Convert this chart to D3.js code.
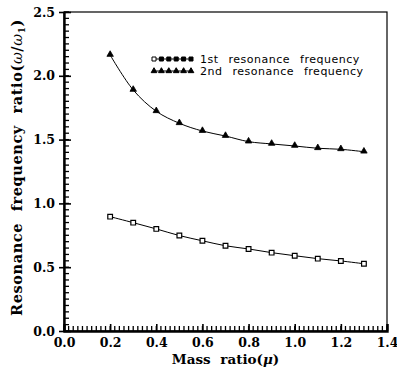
<!DOCTYPE html>
<html>
<head>
<meta charset="utf-8">
<script src="https://cdn.jsdelivr.net/npm/d3@7"></script>
<style>
  body { margin: 0; background: #fff; }
  .tick text { font-family: "DejaVu Serif", serif; font-weight: bold; }
</style>
</head>
<body>
<div id="chart"></div>
<script>
// mass ratio values
let massRatio = [0.2, 0.3, 0.4, 0.5, 0.6, 0.7, 0.8, 0.9, 1.0, 1.1, 1.2, 1.3];
let firstFreq = [0.896, 0.849, 0.80, 0.748, 0.707, 0.668, 0.643, 0.614, 0.59, 0.567, 0.549, 0.527];
let secondFreq = [2.163, 1.889, 1.722, 1.628, 1.567, 1.528, 1.484, 1.466, 1.45, 1.432, 1.424, 1.405];
let seriesNames = ["1st resonance frequency", "2nd resonance frequency"];
let xTicks = [0.0, 0.2, 0.4, 0.6, 0.8, 1.0, 1.2, 1.4];
let yTicks = [0.0, 0.5, 1.0, 1.5, 2.0, 2.5];

let width = 397;
let height = 370;
let margin = {left: 64, right: 10, top: 12, bottom: 39};

let svg = d3.select("#chart").append("svg")
  .attr("width", width)
  .attr("height", height);

let x = d3.scaleLinear().domain([0, 1.4]).range([margin.left, width - margin.right]);
let y = d3.scaleLinear().domain([0, 2.5]).range([height - margin.bottom, margin.top]);

// frame
svg.append("rect")
  .attr("x", x(0)).attr("y", y(2.5))
  .attr("width", x(1.4) - x(0)).attr("height", y(0) - y(2.5))
  .style("fill", "none").style("stroke", "#000").style("stroke-width", 1.2);

// minor ticks
let xMinor = d3.range(0, 141, 2).map(d => d / 100);
let yMinor = d3.range(0, 51, 1).map(d => d / 20);

svg.append("g").selectAll("line").data(xMinor).join("line")
  .attr("x1", d => x(d)).attr("x2", d => x(d))
  .attr("y1", y(0)).attr("y2", y(0) - 5)
  .attr("stroke", "#000").attr("stroke-width", 1.3);

svg.append("g").selectAll("line").data(yMinor).join("line")
  .attr("x1", x(0)).attr("x2", x(0) + 5)
  .attr("y1", d => y(d)).attr("y2", d => y(d))
  .attr("stroke", "#000").attr("stroke-width", 1.3);

// axes with major ticks
let xAxis = svg.append("g")
  .attr("transform", "translate(0," + y(0) + ")")
  .call(d3.axisBottom(x).tickValues(xTicks).tickFormat(d3.format(".1f")).tickSize(-7).tickPadding(7));
let yAxis = svg.append("g")
  .attr("transform", "translate(" + x(0) + ",0)")
  .call(d3.axisLeft(y).tickValues(yTicks).tickFormat(d3.format(".1f")).tickSizeInner(5).tickSizeOuter(0).tickPadding(4));

yAxis.selectAll(".tick line").attr("x2", -5).attr("x1", 7).style("stroke-width", 1.6);
xAxis.selectAll(".tick line").style("stroke-width", 1.6);
[xAxis, yAxis].forEach(a => {
  a.select(".domain").style("stroke-width", 2.4);
  a.selectAll(".tick text").style("font-size", "12.5px").style("fill", "#000");
});

// curves
let line = d3.line()
  .x(d => x(d[0]))
  .y(d => y(d[1]))
  .curve(d3.curveCatmullRom);

let s1 = massRatio.map((m, i) => [m, firstFreq[i]]);
let s2 = massRatio.map((m, i) => [m, secondFreq[i]]);

[s1, s2].forEach(s => {
  svg.append("path")
    .datum(s)
    .attr("d", line)
    .style("fill", "none")
    .style("stroke", "#000")
    .style("stroke-width", 1);
});

let square = d3.symbol().type(d3.symbolSquare).size(22);
let triangle = d3.symbol().type(d3.symbolTriangle).size(18);

svg.append("g").selectAll("path").data(s1).join("path")
  .attr("d", square)
  .attr("transform", d => "translate(" + x(d[0]) + "," + y(d[1]) + ")")
  .style("fill", "#fff").style("stroke", "#000").style("stroke-width", 1.2);

svg.append("g").selectAll("path").data(s2).join("path")
  .attr("d", triangle)
  .attr("transform", d => "translate(" + x(d[0]) + "," + (y(d[1]) - 0.5) + ")")
  .style("fill", "#000").style("stroke", "#000").style("stroke-width", 0.8);

// legend
let legend = svg.append("g");
let legendRows = [59, 71];
seriesNames.forEach((name, i) => {
  let ly = legendRows[i];
  legend.append("line")
    .attr("x1", 152).attr("x2", 193)
    .attr("y1", ly).attr("y2", ly)
    .style("stroke", "#000").style("stroke-width", 1.2);
  d3.range(6).forEach(k => {
    legend.append("path")
      .attr("d", i == 0 ? square.size(16)() : triangle.size(14)())
      .attr("transform", "translate(" + (154 + k * 7.4) + "," + ly + ")")
      .style("fill", i == 0 && k == 0 ? "#fff" : "#000")
      .style("stroke", "#000").style("stroke-width", 1);
  });
  legend.append("text")
    .attr("x", 200).attr("y", ly + 4)
    .style("font-family", "DejaVu Sans, sans-serif")
    .style("font-size", "11px")
    .style("letter-spacing", "0.5px")
    .style("word-spacing", "6px")
    .text(name);
});

// axis labels
svg.append("text")
  .attr("x", (x(0) + x(1.4)) / 2).attr("y", 364)
  .attr("text-anchor", "middle")
  .style("font-family", "DejaVu Serif, serif")
  .style("font-weight", "bold")
  .style("font-size", "13.5px")
  .style("word-spacing", "5px")
  .html("Mass ratio(<tspan font-style='italic'>μ</tspan>)");

svg.append("text")
  .attr("transform", "translate(22," + ((y(0) + y(2.5)) / 2 - 4) + ") rotate(-90)")
  .attr("text-anchor", "middle")
  .style("font-family", "DejaVu Serif, serif")
  .style("font-weight", "bold")
  .style("font-size", "14.5px")
  .style("letter-spacing", "0.6px")
  .style("word-spacing", "6px")
  .html("Resonance frequency ratio(<tspan font-style='italic' font-weight='normal'>ω</tspan>/<tspan font-style='italic' font-weight='normal'>ω</tspan><tspan font-size='9px' dy='3'>1</tspan><tspan dy='-3'>)</tspan>");
</script>
</body>
</html>
